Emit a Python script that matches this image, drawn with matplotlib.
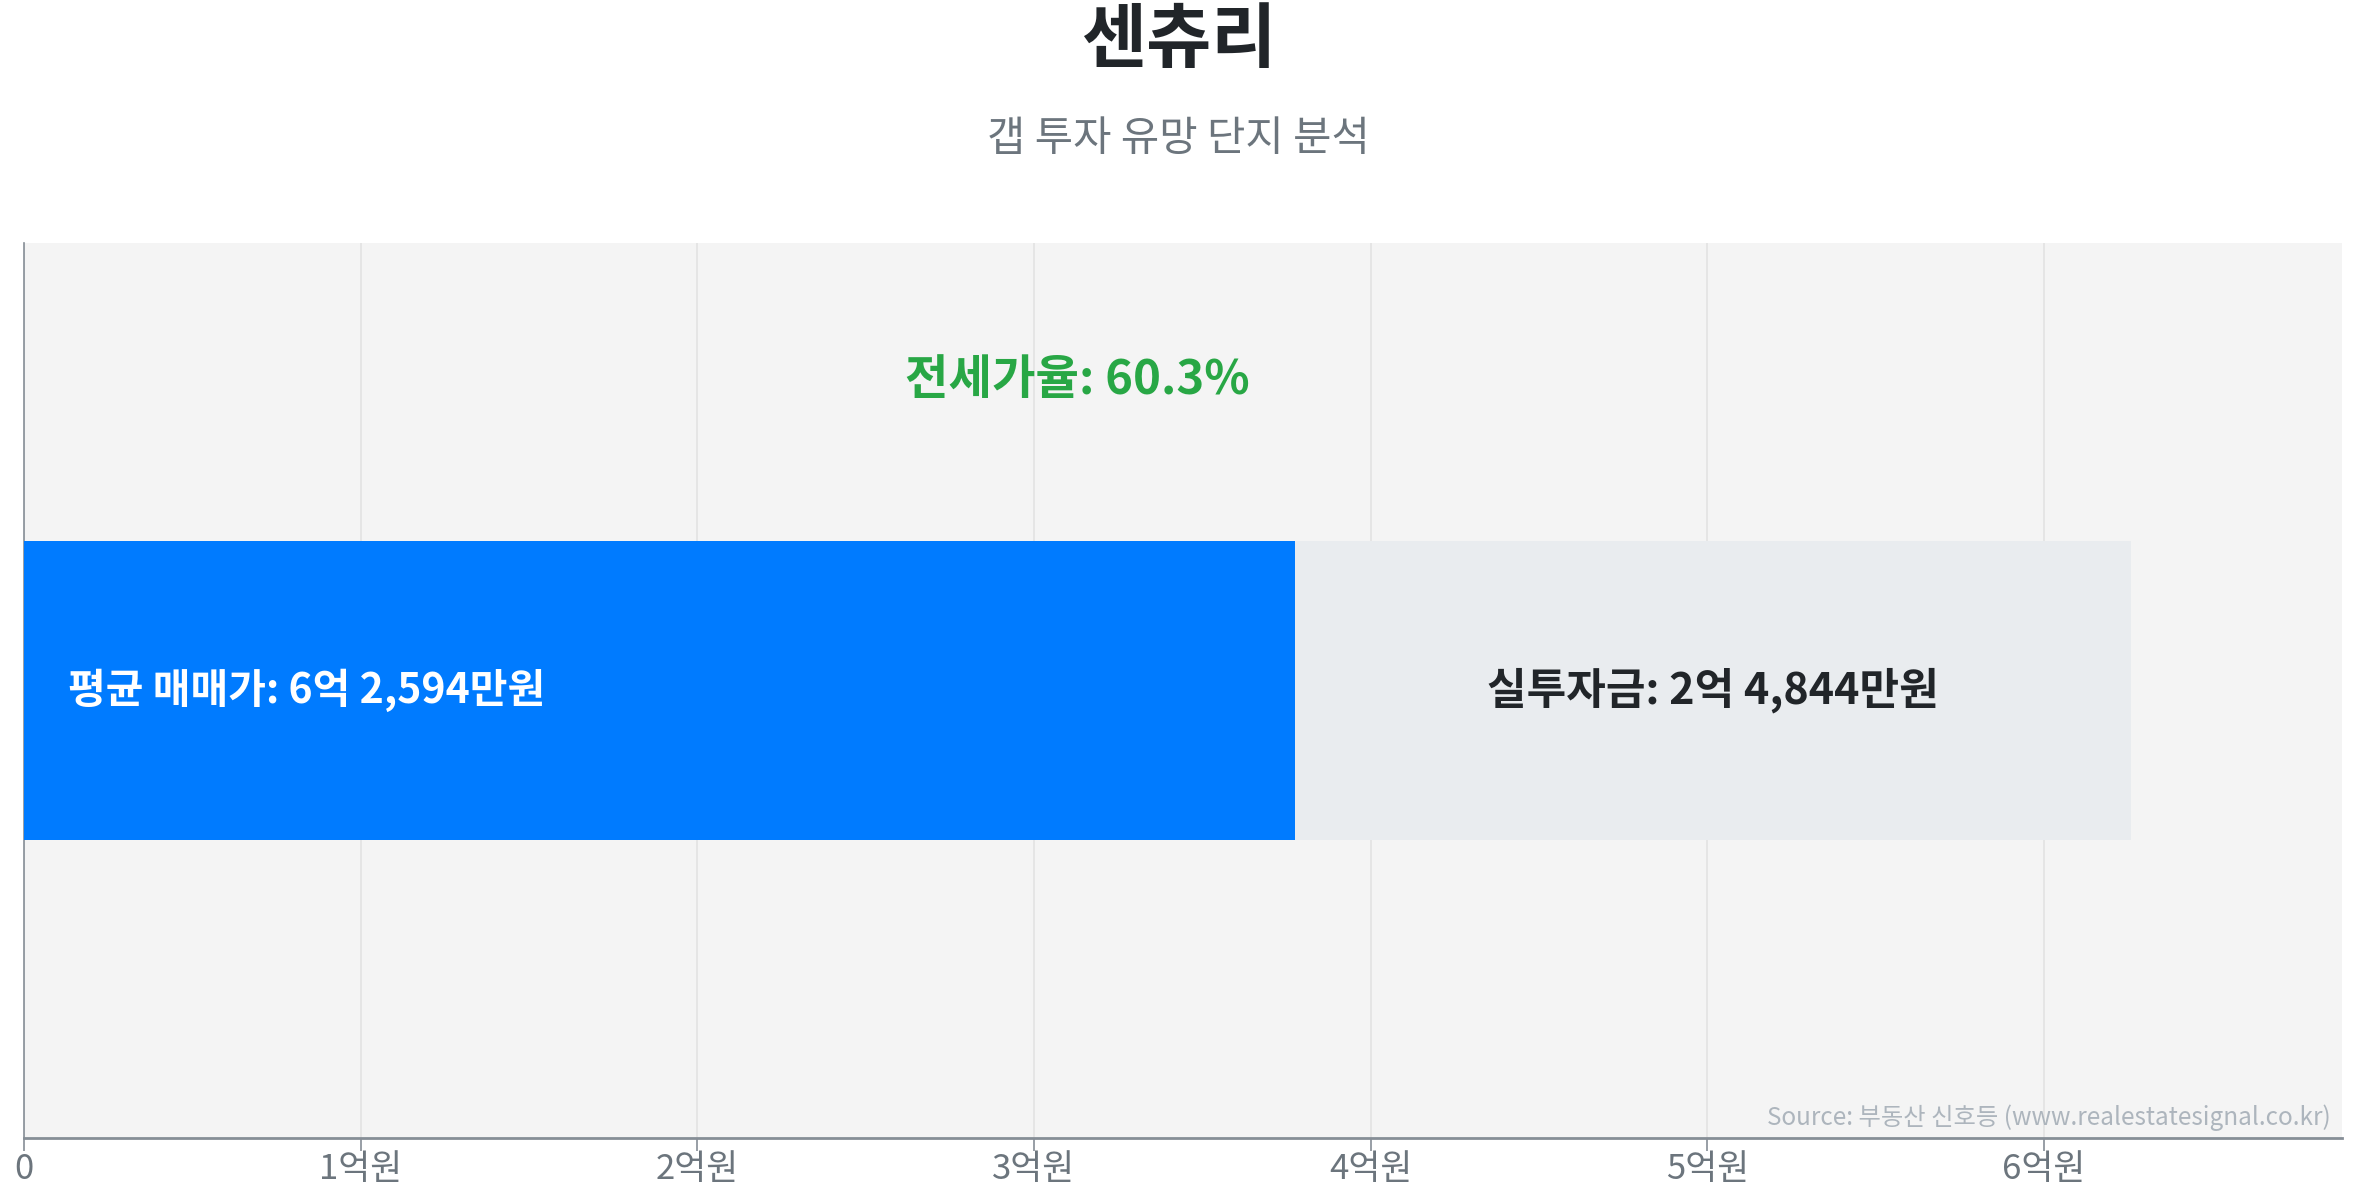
import matplotlib
matplotlib.use('Agg')
import matplotlib.pyplot as plt
from matplotlib.ticker import FuncFormatter

plt.rcParams['font.family'] = ['Noto Sans CJK KR', 'DejaVu Sans']

# data (단위: 만원)
title = '센츄리'
subtitle = '갭 투자 유망 단지 분석'
sale_price = 62594
investment = 24844
jeonse = sale_price - investment
jeonse_ratio = 60.3
tick_values = [0, 10000, 20000, 30000, 40000, 50000, 60000]
source = 'Source: 부동산 신호등 (www.realestatesignal.co.kr)'


def won_label(v):
    eok = int(v // 10000)
    man = int(round(v % 10000))
    return f'{eok}억 {man:,}만원'


def tick_label(v, pos):
    if v == 0:
        return '0'
    return f'{int(v // 10000)}억원'


def main():
    fig = plt.figure(figsize=(23.57, 12), dpi=100)
    ax = fig.add_axes([0.0102, 0.0517, 0.9834, 0.7458])
    ax.set_facecolor('#f4f4f4')

    ax.barh(0, jeonse, height=1, color='#007bff', zorder=3)
    ax.barh(0, investment, left=jeonse, height=1, color='#e9ecef', zorder=3)

    ax.text(1300, 0, f'평균 매매가: {won_label(sale_price)}', color='white',
            fontsize=29.5, fontweight='bold', ha='left', va='center', zorder=4)
    ax.text(jeonse + investment / 2, 0, f'실투자금: {won_label(investment)}',
            color='#212529', fontsize=31, fontweight='bold', ha='center', va='center', zorder=4)
    ax.text(sale_price / 2, 1.04, f'전세가율: {jeonse_ratio}%', color='#28a745',
            fontsize=34, fontweight='bold', ha='center', va='center', zorder=4)

    ax.set_xlim(0, sale_price * 1.1)
    ax.set_ylim(-1.5, 1.5)
    ax.set_xticks(tick_values)
    ax.xaxis.set_major_formatter(FuncFormatter(tick_label))
    ax.set_yticks([])
    ax.grid(axis='x', color='#e2e2e2', linewidth=1.2, zorder=0)
    ax.tick_params(axis='x', length=9, width=1.2, color='#868e96', labelsize=25,
                   labelcolor='#6c757d', pad=1)
    for side in ['top', 'right']:
        ax.spines[side].set_visible(False)
    ax.spines['left'].set_color('#868e96')
    ax.spines['left'].set_linewidth(1.2)
    ax.spines['bottom'].set_color('#868e96')
    ax.spines['bottom'].set_linewidth(2)

    ax.text(0.995, 0.008, source, transform=ax.transAxes, ha='right', va='bottom',
            fontsize=17.5, color='#adb5bd', zorder=5)

    fig.text(0.5, 0.966, title, ha='center', va='center', fontsize=51,
             fontweight='bold', color='#212529')
    fig.text(0.5, 0.884, subtitle, ha='center', va='center', fontsize=30,
             color='#6c757d')

    fig.savefig('out.png', dpi=100, facecolor='white')


if __name__ == '__main__':
    main()
